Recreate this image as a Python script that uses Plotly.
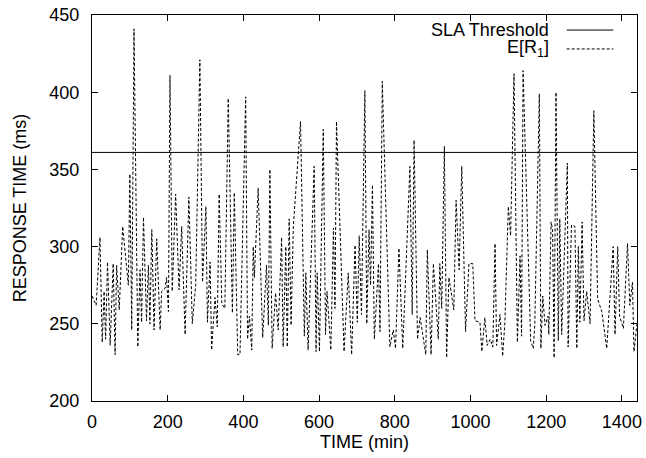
import plotly.graph_objects as go

# ---- data ----
TIME = [0, 11, 21, 27, 32, 36, 41, 48, 56, 61, 65, 72, 81, 90, 96, 100, 105, 111, 121, 127,
        131, 136, 144, 149, 153, 158, 164, 171, 180, 184, 193, 197, 202, 206, 212, 221, 230, 237, 246, 256,
        265, 274, 285, 292, 301, 305, 312, 316, 325, 331, 336, 343, 351, 360, 371, 376, 385, 391, 406, 411,
        416, 422, 426, 429, 439, 451, 461, 466, 470, 476, 485, 492, 501, 505, 512, 516, 521, 526, 532, 551,
        561, 565, 571, 587, 592, 595, 601, 611, 617, 621, 631, 638, 642, 646, 666, 677, 686, 695, 701, 706,
        712, 721, 726, 732, 736, 741, 746, 757, 761, 767, 787, 796, 802, 811, 821, 827, 840, 846, 851, 860,
        867, 882, 886, 896, 902, 915, 919, 924, 931, 937, 943, 956, 962, 970, 977, 987, 996, 1006, 1012, 1025,
        1030, 1038, 1044, 1052, 1059, 1065, 1069, 1078, 1085, 1091, 1100, 1106, 1115, 1124, 1131, 1135, 1139, 1159, 1166, 1170,
        1182, 1186, 1191, 1197, 1205, 1207, 1213, 1217, 1221, 1226, 1232, 1236, 1241, 1256, 1258, 1267, 1276, 1281, 1285, 1289,
        1295, 1300, 1307, 1316, 1326, 1336, 1347, 1360, 1377, 1382, 1389, 1394, 1404, 1415, 1421, 1428, 1432, 1440]
RESP = [268, 262, 306, 238, 271, 240, 290, 236, 289, 230, 288, 259, 313, 292, 275, 347, 246, 441, 235, 285,
        251, 319, 252, 288, 250, 311, 246, 305, 246, 271, 273, 280, 258, 411, 271, 334, 272, 313, 243, 332,
        250, 275, 421, 277, 326, 251, 290, 233, 267, 248, 334, 263, 260, 396, 257, 335, 230, 230, 397, 240,
        255, 233, 300, 280, 338, 241, 288, 249, 350, 234, 270, 246, 306, 235, 300, 235, 318, 249, 313, 381,
        242, 283, 233, 352, 232, 283, 232, 376, 243, 271, 233, 312, 260, 381, 232, 283, 230, 301, 251, 307,
        256, 401, 250, 311, 275, 340, 240, 289, 245, 407, 235, 246, 234, 299, 234, 270, 352, 256, 369, 240,
        254, 230, 298, 230, 289, 240, 289, 260, 365, 228, 280, 259, 330, 285, 352, 245, 289, 289, 252, 251,
        232, 254, 236, 240, 235, 302, 236, 256, 229, 251, 326, 307, 412, 238, 294, 242, 414, 239, 234, 250,
        399, 234, 268, 249, 255, 243, 316, 311, 228, 400, 239, 318, 243, 354, 235, 314, 313, 234, 300, 251,
        316, 252, 271, 250, 388, 266, 258, 234, 300, 243, 300, 255, 247, 302, 262, 277, 232, 250]
SLA_THRESHOLD = 361
X_RANGE = [0, 1440]
Y_RANGE = [200, 450]
X_TICKS = [0, 200, 400, 600, 800, 1000, 1200, 1400]
Y_TICKS = [200, 250, 300, 350, 400, 450]
SERIES_NAMES = ["SLA Threshold", "E[R<sub>1</sub>]"]

FONT = "Liberation Sans, Arial, Helvetica, sans-serif"
FS = 18

fig = go.Figure()
fig.add_trace(go.Scatter(x=X_RANGE, y=[SLA_THRESHOLD, SLA_THRESHOLD], mode="lines",
                         line=dict(color="black", width=1), name=SERIES_NAMES[0],
                         showlegend=False))
fig.add_trace(go.Scatter(x=TIME, y=RESP, mode="lines",
                         line=dict(color="black", width=1, dash="3px,2px"), name=SERIES_NAMES[1],
                         showlegend=False))

axis_common = dict(showline=True, linecolor="black", linewidth=1, mirror="ticks",
                   ticks="inside", ticklen=6, tickcolor="black", tickwidth=1,
                   showgrid=False, zeroline=False, ticklabeloverflow="allow",
                   automargin=False,
                   tickfont=dict(family=FONT, size=FS, color="black"))

fig.update_xaxes(range=X_RANGE, tickvals=X_TICKS, ticklabelstandoff=4, **axis_common,
                 title=dict(text="TIME (min)", font=dict(family=FONT, size=FS, color="black"), standoff=4))
fig.update_yaxes(range=Y_RANGE, tickvals=Y_TICKS, ticklabelstandoff=8, **axis_common,
                 title=dict(text="RESPONSE TIME (ms)", font=dict(family=FONT, size=FS, color="black"), standoff=18))

# gnuplot-style key: text right-aligned, sample to the right
legend_rows = [(0.961, None), (0.912, "3px,2px")]
for name, (yp, dash) in zip(SERIES_NAMES, legend_rows):
    fig.add_annotation(xref="paper", yref="paper", x=0.842, y=yp, text=name, showarrow=False,
                       xanchor="right", yanchor="middle",
                       font=dict(family=FONT, size=FS, color="black"))
    fig.add_shape(type="line", xref="paper", yref="paper", x0=0.871, x1=0.9565, y0=yp, y1=yp,
                  line=dict(color="black", width=1, dash=dash if dash else "solid"))

fig.update_layout(width=646, height=458, margin=dict(l=92, r=9, t=15, b=57),
                  paper_bgcolor="white", plot_bgcolor="white",
                  font=dict(family=FONT, size=FS, color="black"))

# remove the page's default 8px body margin so the figure fills the window exactly
fig.write_html("out.html",
               config={"displayModeBar": False, "staticPlot": True},
               post_script="document.body.style.margin='0';document.body.style.overflow='hidden';")
